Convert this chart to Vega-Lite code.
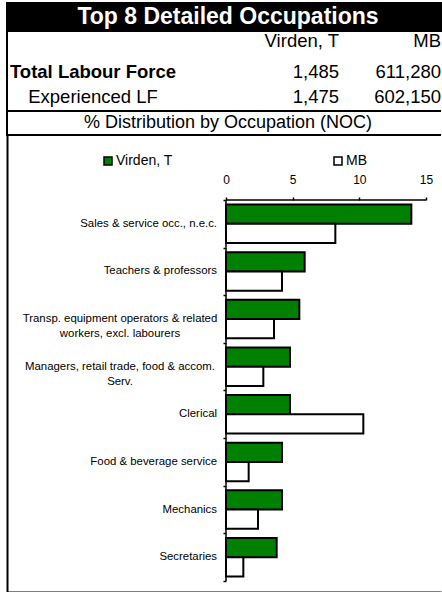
{
  "$schema": "https://vega.github.io/schema/vega-lite/v6.json",
  "padding": {"left": 6, "top": 2, "right": 0, "bottom": 0},
  "spacing": 0,
  "bounds": "flush",
  "config": {
    "font": "Liberation Sans",
    "view": {"stroke": "black", "strokeWidth": 2},
    "concat": {"spacing": 0}
  },
  "vconcat": [
    {
      "width": 434,
      "height": 28,
      "view": {"fill": "black", "stroke": "black", "strokeWidth": 2},
      "data": {"values": [{"t": "Top 8 Detailed Occupations"}]},
      "mark": {"type": "text", "color": "white", "fontWeight": "bold", "fontSize": 23, "align": "center", "baseline": "middle", "dx": 4},
      "encoding": {"text": {"field": "t"}}
    },
    {
      "width": 434,
      "height": 80,
      "view": {"stroke": "black", "strokeWidth": 2, "strokeDash": [434, 80, 514]},
      "data": {"values": [
        {"row": "head", "col": "local", "text": "Virden, T"},
        {"row": "head", "col": "prov", "text": "MB"},
        {"row": "total", "col": "label", "text": "Total Labour Force"},
        {"row": "total", "col": "local", "text": "1,485"},
        {"row": "total", "col": "prov", "text": "611,280"},
        {"row": "exp", "col": "label", "text": "Experienced LF"},
        {"row": "exp", "col": "local", "text": "1,475"},
        {"row": "exp", "col": "prov", "text": "602,150"}
      ]},
      "encoding": {
        "x": {"field": "col", "type": "nominal", "scale": {"type": "point", "domain": ["label", "local", "prov"], "range": [86, 434], "padding": 0}, "axis": null},
        "y": {"field": "row", "type": "nominal", "scale": {"type": "point", "domain": ["head", "total", "exp"], "range": [10, 66], "padding": 0}, "axis": null},
        "text": {"field": "text"}
      },
      "layer": [
        {"transform": [{"filter": "datum.row == 'total' && datum.col == 'label'"}],
         "mark": {"type": "text", "fontSize": 18.5, "fontWeight": "bold", "align": "center", "baseline": "middle", "color": "black", "dy": 3}},
        {"transform": [{"filter": "datum.row == 'exp' && datum.col == 'label'"}],
         "mark": {"type": "text", "fontSize": 18.5, "align": "center", "baseline": "middle", "color": "black"}},
        {"transform": [{"filter": "datum.col == 'local' && datum.row != 'total'"}],
         "mark": {"type": "text", "fontSize": 18.5, "align": "right", "baseline": "middle", "dx": 72, "color": "black"}},
        {"transform": [{"filter": "datum.col == 'local' && datum.row == 'total'"}],
         "mark": {"type": "text", "fontSize": 18.5, "align": "right", "baseline": "middle", "dx": 72, "dy": 3, "color": "black"}},
        {"transform": [{"filter": "datum.col == 'prov' && datum.row != 'total'"}],
         "mark": {"type": "text", "fontSize": 18.5, "align": "right", "baseline": "middle", "color": "black"}},
        {"transform": [{"filter": "datum.col == 'prov' && datum.row == 'total'"}],
         "mark": {"type": "text", "fontSize": 18.5, "align": "right", "baseline": "middle", "dy": 3, "color": "black"}}
      ]
    },
    {
      "width": 434,
      "height": 24,
      "view": {"stroke": "black", "strokeWidth": 2, "strokeDash": [434, 24, 458]},
      "data": {"values": [{"t": "% Distribution by Occupation (NOC)"}]},
      "mark": {"type": "text", "color": "black", "fontSize": 18, "align": "center", "baseline": "middle", "dx": 4},
      "encoding": {"text": {"field": "t"}}
    },
    {
      "width": 434,
      "height": 457,
      "view": {"stroke": null},
      "resolve": {"axis": {"x": "independent", "y": "independent"}},
      "data": {"values": [
        {"occ": "Sales & service occ., n.e.c.", "region": "Virden, T", "pct": 13.9},
        {"occ": "Sales & service occ., n.e.c.", "region": "MB", "pct": 8.2},
        {"occ": "Teachers & professors", "region": "Virden, T", "pct": 5.9},
        {"occ": "Teachers & professors", "region": "MB", "pct": 4.2},
        {"occ": "Transp. equipment operators & related|workers, excl. labourers", "region": "Virden, T", "pct": 5.5},
        {"occ": "Transp. equipment operators & related|workers, excl. labourers", "region": "MB", "pct": 3.6},
        {"occ": "Managers, retail trade, food & accom.|Serv.", "region": "Virden, T", "pct": 4.8},
        {"occ": "Managers, retail trade, food & accom.|Serv.", "region": "MB", "pct": 2.8},
        {"occ": "Clerical", "region": "Virden, T", "pct": 4.8},
        {"occ": "Clerical", "region": "MB", "pct": 10.3},
        {"occ": "Food & beverage service", "region": "Virden, T", "pct": 4.2},
        {"occ": "Food & beverage service", "region": "MB", "pct": 1.7},
        {"occ": "Mechanics", "region": "Virden, T", "pct": 4.2},
        {"occ": "Mechanics", "region": "MB", "pct": 2.4},
        {"occ": "Secretaries", "region": "Virden, T", "pct": 3.8},
        {"occ": "Secretaries", "region": "MB", "pct": 1.3}
      ]},
      "layer": [
        {
          "mark": {"type": "bar", "stroke": "black", "strokeWidth": 2},
          "encoding": {
            "x": {"field": "pct", "type": "quantitative", "title": null,
                  "scale": {"domain": [-16.425, 16.125], "nice": false, "zero": false},
                  "axis": {"orient": "top", "offset": -65, "values": [0, 5, 10, 15], "title": null, "domain": false, "grid": false,
                           "tickSize": 3, "tickColor": "black", "tickWidth": 1.5, "labelFontSize": 12, "labelColor": "black", "labelPadding": 11, "labelFlush": false}},
            "x2": {"datum": 0},
            "y": {"field": "occ", "type": "nominal", "title": null,
                  "scale": {"domain": ["Sales & service occ., n.e.c.", "Teachers & professors", "Transp. equipment operators & related|workers, excl. labourers", "Managers, retail trade, food & accom.|Serv.", "Clerical", "Food & beverage service", "Mechanics", "Secretaries"],
                            "paddingInner": 0, "paddingOuter": 0.798, "align": 0.855, "round": false},
                  "axis": {"orient": "left", "offset": -219, "title": null, "domain": false, "grid": false, "ticks": true, "tickBand": "extent",
                           "tickSize": 3, "tickColor": "black", "tickWidth": 1.5, "labels": false}},
            "yOffset": {"field": "region", "type": "nominal", "sort": ["Virden, T", "MB"], "scale": {"paddingInner": 0, "paddingOuter": 0.236}},
            "color": {"field": "region", "type": "nominal",
                      "scale": {"domain": ["Virden, T", "MB"], "range": ["#008000", "#ffffff"]},
                      "legend": {"orient": "none", "legendX": 94, "legendY": 151, "direction": "horizontal", "title": null,
                                 "symbolType": "square", "symbolSize": 64, "symbolStrokeColor": "black", "symbolStrokeWidth": 1.5,
                                 "labelFontSize": 14, "labelColor": "black", "labelOffset": 1, "columnPadding": 158}}
          }
        },
        {
          "transform": [{"filter": "datum.region == 'MB'"}],
          "mark": {"type": "bar", "fillOpacity": 0, "stroke": "black", "strokeWidth": 1.5},
          "encoding": {
            "x": {"datum": 0, "title": null,
                  "axis": {"orient": "bottom", "domain": true, "domainColor": "black", "domainWidth": 2, "ticks": false, "labels": false, "grid": false, "title": null}},
            "x2": {"datum": 0},
            "y": {"field": "occ", "type": "nominal", "title": null,
                  "axis": {"orient": "left", "domain": true, "domainColor": "black", "domainWidth": 2, "ticks": false, "labels": false, "grid": false, "title": null}}
          }
        },
        {
          "transform": [{"filter": "datum.region == 'MB' && datum.occ == 'Sales & service occ., n.e.c.'"}],
          "mark": {"type": "rule", "stroke": "black", "strokeWidth": 1.5},
          "encoding": {
            "x": {"datum": 0, "title": null, "axis": null},
            "x2": {"datum": 15},
            "y": {"field": "occ", "type": "nominal", "bandPosition": 0, "title": null, "axis": null}
          }
        },
        {
          "transform": [{"filter": "datum.region == 'MB' && indexof(datum.occ, '|') < 0"}],
          "mark": {"type": "text", "align": "right", "baseline": "middle", "dx": -9, "fontSize": 11.4, "color": "black"},
          "encoding": {
            "x": {"datum": 0, "title": null, "axis": null},
            "y": {"field": "occ", "type": "nominal", "title": null, "axis": null},
            "text": {"field": "occ"}
          }
        },
        {
          "transform": [{"filter": "datum.region == 'MB' && indexof(datum.occ, '|') >= 0"}],
          "mark": {"type": "text", "align": "center", "baseline": "middle", "dx": -106, "fontSize": 11.4, "color": "black", "lineBreak": "|", "lineHeight": 15},
          "encoding": {
            "x": {"datum": 0, "title": null, "axis": null},
            "y": {"field": "occ", "type": "nominal", "title": null, "axis": null},
            "text": {"field": "occ"}
          }
        }
      ]
    }
  ]
}
